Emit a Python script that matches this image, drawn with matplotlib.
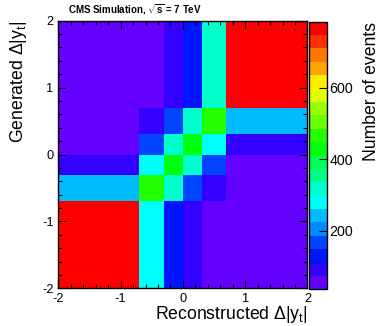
import colorsys
import numpy as np
import matplotlib
matplotlib.use("Agg")
import matplotlib.pyplot as plt
from matplotlib.colors import ListedColormap, BoundaryNorm

plt.rcParams['font.family'] = ['Liberation Sans', 'DejaVu Sans']
plt.rcParams['mathtext.fontset'] = 'custom'
plt.rcParams['mathtext.rm'] = 'Liberation Sans'
plt.rcParams['mathtext.it'] = 'Liberation Sans'
plt.rcParams['mathtext.bf'] = 'Liberation Sans:bold'

# ---- data ----
x_edges = [-2.0, -0.7, -0.3, 0.0, 0.3, 0.7, 2.0]
y_edges = [-2.0, -0.7, -0.3, 0.0, 0.3, 0.7, 2.0]
# rows: generated bins (bottom -> top), cols: reconstructed bins (left -> right)
row_m2_m07 = [784, 280, 130, 95, 45, 36]
row_m07_m03 = [245, 470, 320, 170, 95, 50]
row_m03_0 = [95, 280, 430, 320, 170, 55]
row_0_03 = [55, 170, 320, 430, 280, 95]
row_03_07 = [50, 95, 170, 320, 470, 245]
row_07_2 = [36, 45, 95, 130, 320, 784]
z_min, z_max = 36, 784
cbar_ticks = [200, 400, 600]
x_ticks = [-2, -1, 0, 1, 2]
y_ticks = [-2, -1, 0, 1, 2]

Z = np.array([row_m2_m07, row_m07_m03, row_m03_0, row_0_03, row_03_07, row_07_2])

# ROOT "pretty" palette, 20 contours
ncol, nlev = 50, 20
cols = []
for k in range(nlev):
    i = int((k + 0.99) * ncol / nlev)
    hue = 280 - (i + 1) * 280 / ncol
    cols.append(colorsys.hls_to_rgb(max(hue, 0) / 360.0, 0.5, 1.0))
cmap = ListedColormap(cols)
levels = np.linspace(z_min, z_max, nlev + 1)
norm = BoundaryNorm(levels, nlev)

fig = plt.figure(figsize=(3.81, 3.26), dpi=100)
ax = fig.add_axes([0.153, 0.1156, 0.654, 0.8209])
Zc = np.clip(Z, z_min, z_max - 1e-6)
ax.pcolormesh(x_edges, y_edges, Zc, cmap=cmap, norm=norm)
ax.set_xlim(-2, 2)
ax.set_ylim(-2, 2)
ax.set_xticks(x_ticks)
ax.set_yticks(y_ticks)
ax.set_xticklabels([str(t) for t in x_ticks])
ax.set_yticklabels([str(t) for t in y_ticks])
ax.set_xticks(np.arange(-2, 2.01, 0.2), minor=True)
ax.set_yticks(np.arange(-2, 2.01, 0.2), minor=True)
ax.tick_params(which='both', direction='in', top=True, right=True, labelsize=9.2, width=0.8)
ax.tick_params(which='major', length=5.5, pad=3.5)
ax.tick_params(which='minor', length=2.8)
for s in ax.spines.values():
    s.set_linewidth(1.0)

cax = fig.add_axes([0.811, 0.1125, 0.0465, 0.8209])
cb = fig.colorbar(matplotlib.cm.ScalarMappable(norm=norm, cmap=cmap), cax=cax,
                  boundaries=levels, ticks=cbar_ticks)
cb.outline.set_linewidth(1.0)
cax.tick_params(direction='in', length=5.5, width=0.8, labelsize=10.3, pad=2)
cax.minorticks_off()

fig.text(0.807, 0.0206, r"Reconstructed $\Delta|$y$_{t}|$", ha='right', va='baseline', fontsize=12.7)
fig.text(0.049, 0.936, r"Generated $\Delta|$y$_{t}|$", ha='center', va='top', rotation=90, fontsize=12.7)
fig.text(0.976, 0.933, "Number of events", ha='center', va='top', rotation=90, fontsize=12.7)
fig.text(0.178, 0.949, r"CMS Simulation, $\mathbf{\sqrt{s}}$ = 7 TeV", ha='left', va='bottom',
         fontsize=7, fontweight='bold')

fig.savefig("out.png", dpi=100)
